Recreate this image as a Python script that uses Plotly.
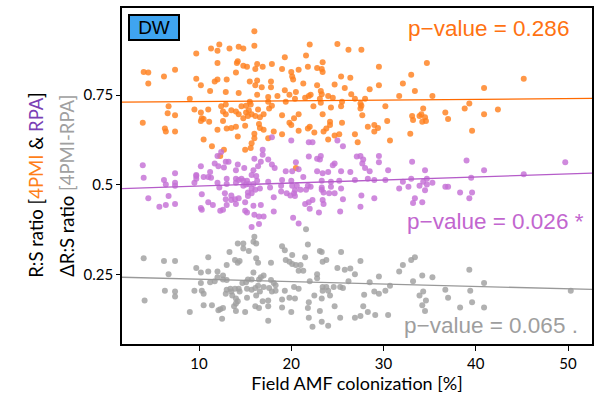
import plotly.graph_objects as go

# ---------------- data ----------------
orange_x = [11.3, 12.2, 12.0, 13.3, 9.7, 12.0, 14.3, 14.1, 14.2, 4.0, 4.5, 7.4, 6.2, 4.5, 9.7, 10.2, 12.0, 11.7, 13.0, 14.0,
            11.2, 12.9, 14.3, 9.0, 6.7, 6.6, 7.4, 9.5, 10.2, 11.0, 12.4, 12.9, 12.6, 12.9, 13.5, 14.0, 14.3, 3.9, 10.3, 10.5,
            10.2, 11.1, 12.6, 6.3, 6.4, 7.4, 12.0, 13.0, 13.5, 14.0, 14.2, 10.5, 11.4, 12.7, 12.3, 16.0, 16.0, 14.8, 22.0, 25.0,
            26.2, 19.3, 21.6, 23.4, 14.8, 15.2, 16.3, 16.1, 16.9, 17.9, 19.0, 20.0, 20.8, 21.8, 22.8, 23.3, 23.4, 20.1, 20.2, 21.3,
            15.5, 16.3, 16.1, 17.8, 17.8, 16.8, 22.8, 25.4, 26.4, 24.7, 25.8, 19.3, 20.5, 23.2, 23.3, 16.3, 18.5, 19.8, 20.4, 21.5,
            21.9, 22.1, 23.1, 23.2, 24.0, 24.5, 26.5, 26.9, 17.5, 17.5, 15.5, 14.6, 15.1, 15.6, 17.9, 19.4, 25.5, 22.4, 24.3, 25.4,
            15.1, 15.4, 16.4, 17.6, 14.8, 15.3, 15.7, 16.1, 16.6, 17.0, 19.0, 20.8, 20.3, 23.4, 25.5, 16.5, 16.6, 19.8, 20.0, 15.0,
            22.0, 21.8, 24.2, 24.2, 23.8, 20.8, 17.0, 18.1, 16.0, 16.0, 19.0, 23.5, 22.5, 24.7, 25.2, 26.9, 17.5, 24.0, 15.7, 15.6,
            15.0, 20.5, 27.6, 29.5, 34.7, 33.0, 32.1, 29.5, 28.5, 33.4, 31.7, 35.3, 28.0, 27.5, 27.6, 27.5, 30.2, 34.3, 34.1, 33.1,
            33.2, 33.9, 34.5, 34.6, 34.2, 27.7, 30.4, 36.7, 37.0, 38.8, 39.3, 28.3, 29.0, 29.4, 29.0, 32.9, 39.6, 30.7, 27.2, 40.9,
            45.2, 40.9, 42.4]
orange_y = [0.880, 0.891, 0.874, 0.880, 0.866, 0.840, 0.885, 0.840, 0.845, 0.815, 0.813, 0.821, 0.802, 0.783, 0.796, 0.778, 0.794, 0.788, 0.794, 0.813,
            0.762, 0.759, 0.756, 0.740, 0.719, 0.700, 0.694, 0.710, 0.702, 0.710, 0.719, 0.724, 0.705, 0.697, 0.708, 0.705, 0.697, 0.673, 0.686, 0.684,
            0.678, 0.676, 0.678, 0.657, 0.649, 0.649, 0.654, 0.657, 0.659, 0.662, 0.635, 0.627, 0.608, 0.598, 0.581, 0.928, 0.888, 0.880, 0.891, 0.893,
            0.877, 0.856, 0.861, 0.842, 0.832, 0.829, 0.837, 0.823, 0.829, 0.837, 0.823, 0.815, 0.821, 0.829, 0.826, 0.823, 0.815, 0.802, 0.794, 0.783,
            0.788, 0.791, 0.778, 0.788, 0.772, 0.772, 0.778, 0.802, 0.799, 0.780, 0.770, 0.764, 0.759, 0.762, 0.753, 0.751, 0.748, 0.751, 0.740, 0.743,
            0.748, 0.751, 0.740, 0.729, 0.748, 0.743, 0.753, 0.740, 0.745, 0.732, 0.732, 0.719, 0.721, 0.724, 0.721, 0.732, 0.732, 0.719, 0.716, 0.719,
            0.702, 0.708, 0.710, 0.713, 0.686, 0.692, 0.697, 0.692, 0.689, 0.697, 0.694, 0.697, 0.686, 0.697, 0.673, 0.670, 0.659, 0.673, 0.667, 0.665,
            0.662, 0.657, 0.676, 0.667, 0.657, 0.651, 0.654, 0.649, 0.643, 0.630, 0.641, 0.649, 0.646, 0.638, 0.641, 0.641, 0.630, 0.627, 0.616, 0.603,
            0.598, 0.547, 0.877, 0.829, 0.840, 0.807, 0.783, 0.778, 0.767, 0.762, 0.748, 0.748, 0.740, 0.727, 0.721, 0.713, 0.719, 0.713, 0.697, 0.692,
            0.681, 0.692, 0.689, 0.678, 0.676, 0.694, 0.678, 0.702, 0.684, 0.713, 0.727, 0.662, 0.667, 0.659, 0.649, 0.643, 0.651, 0.624, 0.619, 0.770,
            0.796, 0.697, 0.710]

purple_x = [3.9, 12.4, 12.0, 12.9, 13.2, 11.7, 12.1, 12.7, 14.2, 14.0, 7.4, 10.2, 11.2, 9.7, 17.9, 20.0, 21.9, 22.3, 25.0, 25.6,
            16.9, 16.9, 16.0, 17.5, 16.7, 21.9, 23.2, 23.1, 22.8, 24.7, 24.5, 27.1, 20.5, 17.9, 18.2, 16.4, 14.9, 15.9, 20.1, 19.4,
            20.8, 22.8, 23.4, 24.0, 25.4, 26.4, 29.5, 27.5, 27.8, 29.5, 27.7, 33.1, 28.0, 28.5, 30.5, 34.5, 39.0, 40.9, 45.2, 49.7,
            4.0, 6.2, 6.4, 7.4, 7.4, 9.7, 9.7, 9.5, 10.5, 11.0, 11.3, 12.0, 12.2, 13.0, 13.0, 14.0, 14.0, 14.3, 4.5, 6.7,
            5.7, 6.4, 7.4, 10.3, 11.0, 11.5, 10.2, 10.3, 12.3, 12.6, 12.8, 13.5, 12.9, 13.5, 13.9, 13.0, 14.0, 14.3, 15.7, 16.2,
            21.3, 14.6, 14.8, 15.2, 16.3, 17.5, 19.0, 20.0, 23.3, 24.3, 25.2, 26.9, 15.1, 15.4, 15.9, 14.8, 18.9, 20.1, 20.6, 21.8,
            22.1, 23.3, 24.3, 15.7, 16.1, 16.6, 17.7, 20.4, 21.0, 21.6, 25.4, 15.3, 15.7, 18.9, 19.5, 19.9, 20.3, 20.4, 23.3, 23.5,
            24.1, 24.7, 15.3, 18.1, 22.3, 21.9, 21.5, 23.4, 23.5, 25.6, 15.0, 15.9, 16.7, 18.1, 22.0, 23.0, 25.3, 15.0, 15.2, 16.0,
            16.5, 17.0, 20.2, 20.8, 16.5, 15.7, 28.3, 29.0, 30.2, 32.1, 33.0, 31.7, 32.7, 33.9, 34.3, 34.7, 34.7, 35.3, 34.5, 36.7,
            37.0, 38.3, 39.6, 39.3, 39.5, 27.6, 29.0, 27.5, 33.4, 33.2, 34.2]
purple_y = [0.555, 0.592, 0.581, 0.565, 0.565, 0.560, 0.552, 0.549, 0.557, 0.541, 0.533, 0.552, 0.536, 0.528, 0.633, 0.624, 0.619, 0.619, 0.624, 0.608,
            0.598, 0.584, 0.573, 0.571, 0.565, 0.579, 0.581, 0.571, 0.573, 0.560, 0.555, 0.579, 0.563, 0.557, 0.547, 0.552, 0.547, 0.541, 0.538, 0.538,
            0.544, 0.538, 0.533, 0.536, 0.538, 0.536, 0.581, 0.581, 0.571, 0.563, 0.560, 0.565, 0.547, 0.538, 0.541, 0.541, 0.568, 0.541, 0.530, 0.563,
            0.520, 0.514, 0.501, 0.506, 0.498, 0.525, 0.517, 0.506, 0.522, 0.522, 0.520, 0.506, 0.493, 0.517, 0.503, 0.517, 0.506, 0.514, 0.463, 0.469,
            0.439, 0.444, 0.447, 0.474, 0.452, 0.444, 0.436, 0.431, 0.428, 0.431, 0.477, 0.471, 0.460, 0.458, 0.460, 0.444, 0.447, 0.463, 0.528, 0.525,
            0.522, 0.517, 0.512, 0.512, 0.512, 0.509, 0.514, 0.512, 0.512, 0.509, 0.512, 0.514, 0.501, 0.503, 0.503, 0.498, 0.498, 0.498, 0.498, 0.498,
            0.495, 0.493, 0.495, 0.490, 0.487, 0.490, 0.493, 0.485, 0.487, 0.487, 0.490, 0.479, 0.477, 0.482, 0.477, 0.471, 0.477, 0.469, 0.487, 0.479,
            0.477, 0.477, 0.469, 0.466, 0.458, 0.452, 0.447, 0.458, 0.447, 0.460, 0.452, 0.442, 0.444, 0.426, 0.434, 0.423, 0.426, 0.428, 0.423, 0.417,
            0.412, 0.412, 0.409, 0.393, 0.391, 0.383, 0.517, 0.514, 0.514, 0.509, 0.517, 0.490, 0.495, 0.498, 0.509, 0.517, 0.501, 0.506, 0.485, 0.495,
            0.495, 0.479, 0.479, 0.463, 0.520, 0.471, 0.463, 0.439, 0.463, 0.450, 0.452]

grey_x = [4.0, 6.2, 7.4, 6.7, 11.0, 9.7, 10.2, 11.0, 12.0, 12.6, 12.6, 13.0, 13.3, 14.2, 13.9, 14.2, 13.0, 12.0, 11.7, 11.2,
          10.2, 6.3, 7.4, 7.4, 9.5, 10.3, 10.5, 4.1, 9.0, 10.5, 11.4, 12.1, 12.3, 12.6, 12.5, 13.0, 13.4, 13.9, 14.3, 12.9,
          13.5, 13.6, 14.0, 14.0, 14.2, 13.8, 21.6, 16.0, 15.9, 16.2, 14.8, 14.8, 19.0, 19.3, 21.8, 23.1, 23.3, 25.4, 15.4, 20.1,
          21.5, 16.2, 16.4, 14.4, 17.8, 19.4, 19.8, 20.1, 20.5, 21.0, 23.4, 23.8, 25.0, 25.8, 26.4, 20.8, 21.3, 15.9, 22.8, 22.8,
          17.0, 16.7, 16.5, 15.7, 15.3, 15.1, 17.8, 22.0, 26.2, 26.9, 16.4, 17.0, 18.1, 18.3, 14.7, 15.2, 15.7, 16.1, 16.6, 17.6,
          17.9, 18.3, 19.3, 20.3, 20.8, 23.4, 23.8, 23.4, 24.0, 24.6, 25.3, 25.6, 14.4, 15.2, 16.2, 16.9, 17.5, 19.0, 19.8, 20.4,
          21.9, 22.5, 23.3, 24.2, 16.1, 17.5, 19.0, 20.0, 21.8, 23.1, 24.7, 15.0, 21.9, 25.3, 26.9, 17.5, 14.0, 16.5, 27.5, 33.4,
          33.0, 32.1, 31.7, 29.5, 28.5, 30.7, 33.2, 34.2, 35.3, 39.3, 29.0, 29.5, 30.2, 27.9, 34.3, 33.9, 36.7, 37.0, 39.4, 39.6,
          34.6, 34.2, 34.5, 27.8, 28.3, 29.1, 27.5, 30.5, 38.3, 40.9, 50.3, 40.9, 22.3, 24.0, 23.3]
grey_y = [0.296, 0.288, 0.288, 0.251, 0.299, 0.269, 0.256, 0.259, 0.259, 0.248, 0.237, 0.235, 0.313, 0.337, 0.291, 0.283, 0.277, 0.243, 0.232, 0.229,
          0.227, 0.205, 0.203, 0.189, 0.205, 0.205, 0.197, 0.178, 0.146, 0.165, 0.165, 0.151, 0.154, 0.157, 0.127, 0.208, 0.211, 0.211, 0.211, 0.197,
          0.203, 0.192, 0.184, 0.170, 0.176, 0.162, 0.377, 0.356, 0.342, 0.337, 0.337, 0.323, 0.329, 0.318, 0.334, 0.316, 0.313, 0.313, 0.316, 0.305,
          0.299, 0.296, 0.283, 0.288, 0.283, 0.291, 0.286, 0.280, 0.277, 0.277, 0.286, 0.291, 0.269, 0.264, 0.267, 0.261, 0.261, 0.256, 0.251, 0.240,
          0.248, 0.243, 0.237, 0.237, 0.237, 0.229, 0.235, 0.232, 0.232, 0.251, 0.219, 0.216, 0.227, 0.221, 0.227, 0.211, 0.208, 0.213, 0.203, 0.213,
          0.203, 0.205, 0.205, 0.216, 0.211, 0.216, 0.216, 0.205, 0.205, 0.216, 0.216, 0.213, 0.203, 0.186, 0.192, 0.176, 0.178, 0.181, 0.186, 0.184,
          0.173, 0.192, 0.184, 0.192, 0.162, 0.162, 0.159, 0.146, 0.157, 0.149, 0.162, 0.146, 0.130, 0.130, 0.130, 0.122, 0.149, 0.157, 0.288, 0.299,
          0.291, 0.277, 0.259, 0.245, 0.229, 0.219, 0.232, 0.248, 0.243, 0.264, 0.203, 0.197, 0.205, 0.194, 0.203, 0.192, 0.208, 0.186, 0.205, 0.173,
          0.178, 0.165, 0.149, 0.162, 0.146, 0.138, 0.135, 0.138, 0.159, 0.227, 0.205, 0.159, 0.105, 0.108, 0.119]

# fitted trend lines (end values)
fit_x = [1.65, 52.6]
orange_fit = [0.731, 0.741]
purple_fit = [0.490, 0.533]
grey_fit = [0.243, 0.209]

p_labels = ["p\u2212value = 0.286", "p\u2212value = 0.026 *", "p\u2212value = 0.065 ."]
p_x = [50.3, 51.9, 51.3]
p_y = [0.936, 0.399, 0.108]

x_ticks = [10, 20, 30, 40, 50]
y_ticks = [0.25, 0.5, 0.75]
y_tick_text = ["0.25", "0.5", "0.75"]

# ---------------- styling ----------------
C_OR_PT = "rgba(255,128,30,0.82)"
C_PU_PT = "rgba(196,112,214,0.82)"
C_GR_PT = "rgba(160,160,160,0.82)"
C_OR_LN = "#ff6a00"
C_PU_LN = "#b55cc9"
C_GR_LN = "#999999"
C_OR_TX = "#ff7212"
C_PU_TX = "#c266cf"
C_GR_TX = "#9e9e9e"

fig = go.Figure()
for xs, ys, c in [(orange_x, orange_y, C_OR_PT), (purple_x, purple_y, C_PU_PT), (grey_x, grey_y, C_GR_PT)]:
    fig.add_trace(go.Scatter(x=xs, y=ys, mode="markers",
                             marker=dict(size=6, color=c, line=dict(width=0)),
                             showlegend=False, hoverinfo="skip"))
for ys, c in [(orange_fit, C_OR_LN), (purple_fit, C_PU_LN), (grey_fit, C_GR_LN)]:
    fig.add_trace(go.Scatter(x=fit_x, y=ys, mode="lines", line=dict(color=c, width=1.3),
                             showlegend=False, hoverinfo="skip"))

ann = []
for t, x, y, c in zip(p_labels, p_x, p_y, [C_OR_TX, C_PU_TX, C_GR_TX]):
    ann.append(dict(text=t, x=x, y=y, xref="x", yref="y", xanchor="right", yanchor="middle",
                    showarrow=False, font=dict(family="Liberation Sans", size=22.5, color=c)))

ann.append(dict(text="DW", xref="paper", yref="paper", x=0, y=1, xshift=6, yshift=-6,
                xanchor="left", yanchor="top", showarrow=False,
                font=dict(family="Liberation Sans", size=19, color="black"),
                bgcolor="#3fa4f0", bordercolor="black", borderwidth=2, borderpad=1,
                width=46, height=21))

ytitle1 = ("R:S ratio [<span style='color:#ff7f1a'>4PMI</span> &amp; "
           "<span style='color:#7a3fb5'>RPA</span>]")
ytitle2 = "\u0394R:S ratio <span style='color:#a0a0a0'>[4PMI-RPA]</span>"
ann.append(dict(text=ytitle1, xref="paper", yref="paper", x=0, y=0.471, xshift=-86,
                xanchor="center", yanchor="middle", textangle=-90, showarrow=False,
                font=dict(family="Lato", size=18.5, color="black")))
ann.append(dict(text=ytitle2, xref="paper", yref="paper", x=0, y=0.471, xshift=-55,
                xanchor="center", yanchor="middle", textangle=-90, showarrow=False,
                font=dict(family="Lato", size=18.5, color="black")))

fig.update_layout(
    width=600, height=394,
    margin=dict(l=122, r=8, t=6, b=40),
    paper_bgcolor="white", plot_bgcolor="white",
    annotations=ann,
    xaxis=dict(range=[1.65, 52.6], tickvals=x_ticks, ticks="outside", ticklen=5, tickcolor="black",
               showgrid=False, zeroline=False, showline=True, linecolor="black", linewidth=1.5, mirror=True,
               tickfont=dict(family="Lato", size=15, color="black"),
               title=dict(text="Field AMF colonization [%]", font=dict(family="Lato", size=18, color="black"),
                          standoff=4)),
    yaxis=dict(range=[0.057, 0.993], tickvals=y_ticks, ticktext=y_tick_text, ticks="outside", ticklen=4,
               tickcolor="black", showgrid=False, zeroline=False, showline=True, linecolor="black",
               linewidth=1.5, mirror=True, tickfont=dict(family="Lato", size=15, color="black")),
)

fig.write_html("out.html", config={"displayModeBar": False},
               post_script="document.body.style.margin='0';document.body.style.padding='0';")
